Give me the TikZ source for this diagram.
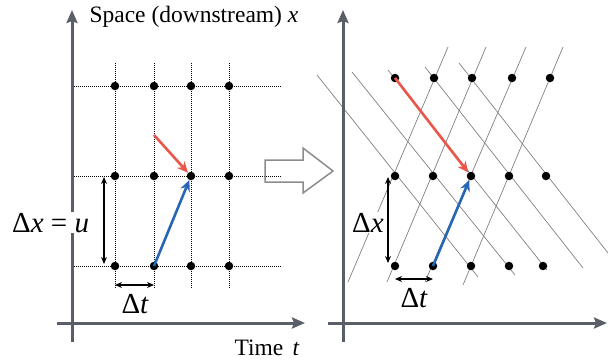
\documentclass[tikz,border=0pt]{standalone}
\usepackage{fontspec}
\setmainfont{Liberation Serif}
\usetikzlibrary{arrows.meta}
\definecolor{ejegris}{HTML}{595E67}
\definecolor{rojo}{HTML}{E9574B}
\definecolor{azul}{HTML}{2766B4}
\definecolor{flechagris}{HTML}{8C8C8C}
\newcommand{\textoeje}{\fontsize{23.5}{28}\selectfont}
\newcommand{\textomed}{\fontsize{29}{34}\selectfont}

\begin{document}
\begin{tikzpicture}[x=1pt, y=-1pt,
    eje/.style={line width=3pt, ejegris, -{Stealth[length=13pt,width=11pt,inset=2pt]}},
    rejilla/.style={line width=0.6pt, dash pattern=on 1pt off 1pt},
    caract/.style={line width=0.7pt, gray},
    punto/.style={circle, fill=black, inner sep=0pt, minimum size=8.5pt},
    vec/.style={line width=2.6pt, -{Stealth[length=11pt,width=10pt]}},
    medida/.style={line width=1.3pt, {Stealth[length=7pt,width=6pt]}-{Stealth[length=7pt,width=6pt]}},
    etiq/.style={inner sep=1pt, fill=white}]
    \useasboundingbox (0,0) rectangle (608,360);

    % Rejilla izquierda (malla fija)
    \foreach \yv in {86,176,266}
        \draw[rejilla] (72,\yv) -- (281,\yv);
    \foreach \xv in {115,154,191,229}
        \draw[rejilla] (\xv,63) -- (\xv,288);
    \foreach \xv [count=\i] in {115,154,191,229}
        \foreach \yv [count=\j] in {86,176,266}
            \node[punto] (l\i\j) at (\xv,\yv) {};

    % Rejilla derecha: caracteristicas hacia arriba
    \draw[caract] (348,282) -- (448,47);
    \draw[caract] (387,282) -- (486,47);
    \draw[caract] (425,282) -- (526,47);
    \draw[caract] (463,285) -- (563,47);
    % caracteristicas hacia abajo
    \draw[caract] (317,75) -- (478,277);
    \draw[caract] (352,72) -- (515,275);
    \draw[caract] (388,70) -- (547,270);
    \draw[caract] (425,67) -- (583,268);
    \draw[caract] (459,63) -- (608,253);
    \foreach \xv [count=\i] in {395,434,472,512,550}
        \node[punto] (r\i1) at (\xv,78) {};
    \foreach \xv [count=\i] in {395,433,471,509,546}
        \node[punto] (r\i2) at (\xv,176) {};
    \foreach \xv [count=\i] in {395,433,471,509,543}
        \node[punto] (r\i3) at (\xv,266) {};

    % Ejes
    \draw[eje] (72,342) -- (72,10);
    \draw[eje] (57,323) -- (305,323);
    \draw[eje] (343,342) -- (343,10);
    \draw[eje] (328,323) -- (607,323);
    \node[anchor=base west] (espacio) at (86,22)
        {\textoeje Space (downstream) \textit{x}};
    \node[anchor=base west] (tiempo) at (231,355)
        {\textoeje Time\hspace{0.4em}\textit{t}};

    % Flecha hueca entre paneles
    \draw[flechagris, line width=1.5pt, line join=miter]
        (265,160) -- (303,160) -- (303,148) -- (333,171)
        -- (303,193) -- (303,182) -- (265,182) -- cycle;

    % Vectores (izquierda)
    \coordinate (lcola) at (154,135);
    \draw[vec, rojo] (lcola) -- (l32);
    \draw[vec, azul] (l23.center) -- (l32);
    % Vectores (derecha)
    \draw[vec, rojo] (r11.center) -- (r32);
    \draw[vec, azul] (r23.center) -- (r32);

    % Medidas izquierda
    \draw[medida] (104,177) -- (104,264);
    \draw[medida] (115,285) -- (154,285);
    \node[etiq, anchor=base west] (dxu) at (11,232)
        {\textomed Δ\textit{x} = \textit{u}};
    \node[anchor=base west] (dtl) at (118,313) {\textomed Δ\textit{t}};
    % Medidas derecha
    \draw[medida] (388,177) -- (388,263);
    \draw[medida] (395,279) -- (433,279);
    \node[etiq, anchor=base west] (dxr) at (351,232) {\textomed Δ\textit{x}};
    \node[anchor=base west] (dtr) at (397,307) {\textomed Δ\textit{t}};
\end{tikzpicture}
\end{document}
